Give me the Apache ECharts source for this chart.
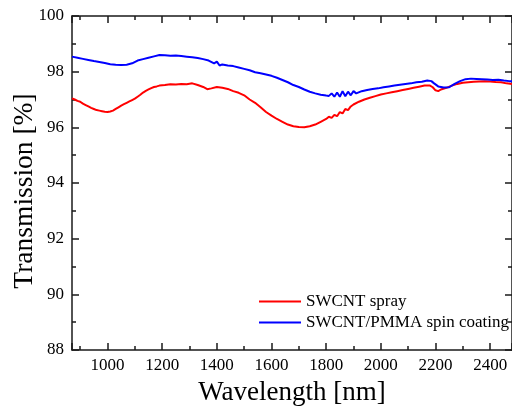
<!DOCTYPE html>
<html>
<head>
<meta charset="utf-8">
<script src="https://cdn.jsdelivr.net/npm/echarts@6/dist/echarts.min.js"></script>
<style>html,body{margin:0;padding:0;background:#fff}#c{width:512px;height:411px}</style>
</head>
<body>
<div id="c"></div>
<script>
var seriesNames = ['SWCNT spray', 'SWCNT/PMMA spin coating'];
var xTitle = 'Wavelength [nm]';
var yTitle = 'Transmission [%]';

var sprayWavelength = [870,880,890,900,910,920,930,940,950,960,970,980,990,1000,1010,1020,1030,1040,1050,1060,1070,1080,1090,1100,1110,1120,1130,1140,1150,1160,1170,1180,1190,1200,1210,1230,1250,1270,1290,1310,1330,1350,1365,1380,1400,1420,1440,1460,1480,1500,1520,1540,1560,1580,1600,1620,1640,1660,1680,1700,1720,1740,1760,1780,1800,1810,1820,1830,1840,1850,1860,1870,1880,1890,1900,1920,1940,1960,1980,2000,2020,2040,2060,2080,2100,2120,2140,2160,2180,2190,2200,2210,2220,2240,2260,2280,2300,2320,2340,2360,2380,2400,2420,2440,2460,2480];
var sprayTransmission = [97.04,97.00,96.95,96.92,96.85,96.80,96.75,96.70,96.66,96.62,96.60,96.58,96.56,96.55,96.57,96.60,96.66,96.72,96.78,96.83,96.88,96.93,96.98,97.03,97.10,97.17,97.25,97.31,97.36,97.41,97.45,97.47,97.50,97.51,97.52,97.55,97.54,97.56,97.55,97.58,97.52,97.45,97.37,97.40,97.45,97.42,97.38,97.30,97.24,97.15,97.00,96.88,96.72,96.55,96.42,96.30,96.20,96.10,96.04,96.01,96.00,96.04,96.10,96.20,96.30,96.38,96.34,96.45,96.40,96.55,96.50,96.66,96.62,96.75,96.82,96.92,97.00,97.06,97.12,97.18,97.22,97.26,97.30,97.34,97.38,97.42,97.46,97.50,97.50,97.44,97.33,97.30,97.36,97.42,97.50,97.56,97.60,97.62,97.64,97.65,97.66,97.65,97.63,97.62,97.58,97.56];

var pmmaWavelength = [870,890,910,930,950,970,990,1010,1030,1050,1070,1090,1110,1130,1150,1170,1190,1210,1230,1250,1270,1290,1310,1330,1350,1370,1390,1400,1410,1420,1440,1460,1480,1500,1520,1540,1560,1580,1600,1620,1640,1660,1680,1700,1720,1740,1760,1780,1800,1810,1820,1830,1840,1850,1860,1870,1880,1890,1900,1910,1930,1950,1970,1990,2010,2030,2050,2070,2090,2110,2130,2150,2170,2185,2195,2210,2230,2250,2270,2290,2310,2330,2350,2370,2390,2410,2430,2450,2470,2480];
var pmmaTransmission = [98.54,98.50,98.46,98.42,98.38,98.35,98.31,98.27,98.25,98.24,98.25,98.30,98.40,98.45,98.50,98.55,98.60,98.59,98.57,98.58,98.56,98.54,98.52,98.49,98.45,98.40,98.30,98.36,98.22,98.26,98.22,98.20,98.15,98.10,98.05,97.98,97.94,97.90,97.85,97.78,97.70,97.62,97.52,97.45,97.36,97.28,97.22,97.17,97.14,97.13,97.22,97.10,97.25,97.10,97.30,97.12,97.28,97.15,97.30,97.22,97.30,97.34,97.38,97.40,97.44,97.47,97.50,97.53,97.56,97.58,97.62,97.64,97.68,97.66,97.58,97.47,97.43,97.44,97.56,97.66,97.73,97.75,97.74,97.73,97.72,97.70,97.71,97.68,97.66,97.66];

var xMin = 870, xMax = 2480, yMin = 88, yMax = 100, yStep = 2;

function pairs(xs, ys) { return xs.map(function (x, i) { return [x, ys[i]]; }); }

var font = 'Liberation Serif';
var axisLineStyle = { color: '#1a1a1a', width: 1.5 };
var lineIcon = 'path://M0,0L0.01,0L0,0.01ZM0,17L0.01,17L0,16.99ZM0,7.6L42,7.6L42,9.4L0,9.4Z';

function xAx(pos, showLabels) {
  return {
    type: 'value', position: pos, min: xMin, max: xMax, splitNumber: 8,
    name: showLabels ? xTitle : '', nameLocation: 'middle', nameGap: 29, nameMoveOverlap: false,
    nameTextStyle: { fontFamily: font, fontSize: 27, color: '#000' },
    axisLine: { show: true, onZero: false, lineStyle: axisLineStyle },
    axisTick: { show: true, inside: true, length: 7, lineStyle: axisLineStyle },
    minorTick: { show: true, splitNumber: 2, length: 4, lineStyle: axisLineStyle },
    axisLabel: { show: showLabels, fontFamily: font, fontSize: 17, color: '#000', margin: 7, showMinLabel: false, showMaxLabel: false, formatter: function (v) { return String(v); } },
    splitLine: { show: false }
  };
}
function yAx(pos, showLabels) {
  return {
    type: 'value', position: pos, min: yMin, max: yMax, interval: yStep,
    name: showLabels ? yTitle : '', nameLocation: 'middle', nameGap: 33, nameMoveOverlap: false,
    nameTextStyle: { fontFamily: font, fontSize: 27.5, color: '#000', padding: [0, 16, 0, 0] },
    axisLine: { show: true, onZero: false, lineStyle: axisLineStyle },
    axisTick: { show: true, inside: true, length: 7, lineStyle: axisLineStyle },
    minorTick: { show: true, splitNumber: 2, length: 4, lineStyle: axisLineStyle },
    axisLabel: { show: showLabels, fontFamily: font, fontSize: 17, color: '#000', margin: 8, formatter: function (v) { return String(v); } },
    splitLine: { show: false }
  };
}

var chart = echarts.init(document.getElementById('c'), null, { renderer: 'canvas' });
chart.setOption({
  animation: false,
  backgroundColor: '#fff',
  grid: { left: 72, right: 0, top: 16, bottom: 61, containLabel: false, outerBoundsMode: 'none' },
  xAxis: [xAx('bottom', true), xAx('top', false)],
  yAxis: [yAx('left', true), yAx('right', false)],
  legend: {
    left: 259, top: 293, orient: 'vertical', padding: 0, itemGap: 4,
    itemWidth: 42, itemHeight: 17, icon: lineIcon,
    textStyle: { fontFamily: font, fontSize: 17, color: '#000' },
    data: seriesNames
  },
  series: [
    { name: seriesNames[0], type: 'line', data: pairs(sprayWavelength, sprayTransmission), showSymbol: false, symbol: 'none', lineStyle: { color: '#ff0000', width: 2 }, itemStyle: { color: '#ff0000' } },
    { name: seriesNames[1], type: 'line', data: pairs(pmmaWavelength, pmmaTransmission), showSymbol: false, symbol: 'none', lineStyle: { color: '#0000ff', width: 2 }, itemStyle: { color: '#0000ff' } }
  ]
});
</script>
</body>
</html>
